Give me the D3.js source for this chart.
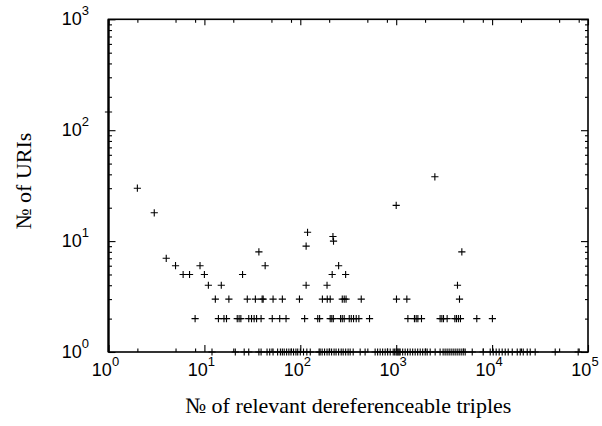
<!DOCTYPE html>
<html><head><meta charset="utf-8">
<script src="https://cdn.jsdelivr.net/npm/d3@7"></script>
<style>body{margin:0;background:#fff}</style>
</head><body>
<svg id="c" width="602" height="426"></svg>
<script>
// № of relevant dereferenceable triples (x) for each № of URIs (y)
const uris1 = [12,21,26,29,37,39,45,48,52,58,62,65,68,72,76,80,85,90,94,100,108,117,127,157,161,169,179,190,200,212,225,236,251,267,280,297,315,331,356,421,474,603,640,680,722,767,815,866,930,964,999,1024,1048,1074,1100,1168,1240,1316,1398,1485,1577,1675,1779,1889,2006,2104,2262,2548,2869,3084,3236,3396,3564,3740,3925,4118,4322,4535,4759,4994,5241,6206,8074,9556,10270,11030,11850,12740,13700,14720,16220,18290,19650,21120,23240,24970,28130,45500,79000];
const uris2 = [8,14,16,17,22,23,24,29,31,33,35,39,51,61,71,111,152,159,205,213,221,263,274,287,324,340,359,383,408,527,1324,1550,1615,1683,1835,2871,2992,3113,3398,4087,4250,4454,4677,6924,10073];
const uris3 = [13,18,28,34,40,41,52,65,98,170,191,205,274,287,300,432,1007,1291,4571];
const uris4 = [11,15,115,190,4355];
const uris5 = [6,7,10,25,215,297];
const uris6 = [5,9,43,251];
const uris7 = [4];
const uris8 = [37,4836];
const uris9 = [115];
const uris10 = [222];
const uris11 = [219];
const uris12 = [119];
const uris18 = [3];
const uris21 = [1000];
const uris30 = [2];
const uris38 = [2530];
const uris146 = [1];

const uriCounts = [1,2,3,4,5,6,7,8,9,10,11,12,18,21,30,38,146];
const tripleRows = [uris1,uris2,uris3,uris4,uris5,uris6,uris7,uris8,uris9,uris10,uris11,uris12,uris18,uris21,uris30,uris38,uris146];

const xMajorTicks = [1,10,100,1000,10000,100000];
const yMajorTicks = [1,10,100,1000];
const xMinorMult = [2,5,8];
const yMinorMult = [2,3,4,5,6,7,8,9];
const xTickExp = ["0","1","2","3","4","5"];
const yTickExp = ["0","1","2","3"];
const xTitle = "№ of relevant dereferenceable triples";
const yTitle = "№ of URIs";

const points = [];
uriCounts.forEach((c,i)=>tripleRows[i].forEach(t=>points.push({x:t,y:c})));

const L=108.5, R=588, T=19.3, B=352;
const x = d3.scaleLog().domain([1,1e5]).range([L,R]);
const y = d3.scaleLog().domain([1,1e3]).range([B,T]);

const svg = d3.select("#c");
const g = svg.append("g");

const xMinor = [];
for (let i=0;i<5;i++) xMinorMult.forEach(m=>xMinor.push(m*Math.pow(10,i)));
const yMinor = [];
for (let i=0;i<3;i++) yMinorMult.forEach(m=>yMinor.push(m*Math.pow(10,i)));

function styleAxis(sel){
  sel.select(".domain").remove();
  sel.selectAll("line").attr("stroke","#000").attr("stroke-width",1.1);
  sel.selectAll("text").remove();
}
g.append("g").attr("transform",`translate(0,${B})`).call(d3.axisBottom(x).tickValues(xMajorTicks).tickSize(-7)).call(styleAxis);
g.append("g").attr("transform",`translate(0,${B})`).call(d3.axisBottom(x).tickValues(xMinor).tickSize(-3.5)).call(styleAxis);
g.append("g").attr("transform",`translate(0,${T})`).call(d3.axisTop(x).tickValues(xMajorTicks).tickSize(-6)).call(styleAxis);
g.append("g").attr("transform",`translate(0,${T})`).call(d3.axisTop(x).tickValues(xMinor).tickSize(-3.5)).call(styleAxis);
g.append("g").attr("transform",`translate(${L},0)`).call(d3.axisLeft(y).tickValues(yMajorTicks).tickSize(-7)).call(styleAxis);
g.append("g").attr("transform",`translate(${L},0)`).call(d3.axisLeft(y).tickValues(yMinor).tickSize(-3.5)).call(styleAxis);
g.append("g").attr("transform",`translate(${R},0)`).call(d3.axisRight(y).tickValues(yMajorTicks).tickSize(-7)).call(styleAxis);
g.append("g").attr("transform",`translate(${R},0)`).call(d3.axisRight(y).tickValues(yMinor).tickSize(-3)).call(styleAxis);

g.append("rect").attr("x",L).attr("y",T).attr("width",R-L).attr("height",B-T)
  .attr("fill","none").attr("stroke","#000").attr("stroke-width",1.6);
g.append("line").attr("x1",L).attr("x2",L).attr("y1",T).attr("y2",B)
  .attr("stroke","#000").attr("stroke-width",2.2);

g.append("g").selectAll("path").data(points).join("path")
  .attr("transform",d=>`translate(${x(d.x)},${y(d.y)})`)
  .attr("d","M-3.6,0H3.6M0,-3.6V3.6")
  .attr("stroke","#000").attr("stroke-width",1.1).attr("fill","none");

const lf = "'Liberation Sans', Arial, sans-serif";
xMajorTicks.forEach((v,i)=>{
  const t = svg.append("text").attr("x",x(v)-3).attr("y",B+24)
    .attr("text-anchor","middle").attr("font-family",lf).attr("font-size",18).attr("fill","#000");
  t.append("tspan").text("10");
  t.append("tspan").attr("dy",-10).attr("font-size",13).text(xTickExp[i]);
});
yMajorTicks.forEach((v,i)=>{
  const t = svg.append("text").attr("x",89).attr("y",y(v)+5.5)
    .attr("text-anchor","end").attr("font-family",lf).attr("font-size",18).attr("fill","#000");
  t.append("tspan").text("10");
  t.append("tspan").attr("dy",-10).attr("font-size",13).text(yTickExp[i]);
});

const sf = "'Liberation Serif', 'DejaVu Serif', serif";
svg.append("text").attr("x",(L+R)/2).attr("y",413).attr("text-anchor","middle")
  .attr("font-family",sf).attr("font-size",22).attr("fill","#000").text(xTitle);
svg.append("text").attr("transform",`translate(31,181) rotate(-90)`).attr("text-anchor","middle")
  .attr("font-family",sf).attr("font-size",22).attr("fill","#000").text(yTitle);
</script>
</body></html>
